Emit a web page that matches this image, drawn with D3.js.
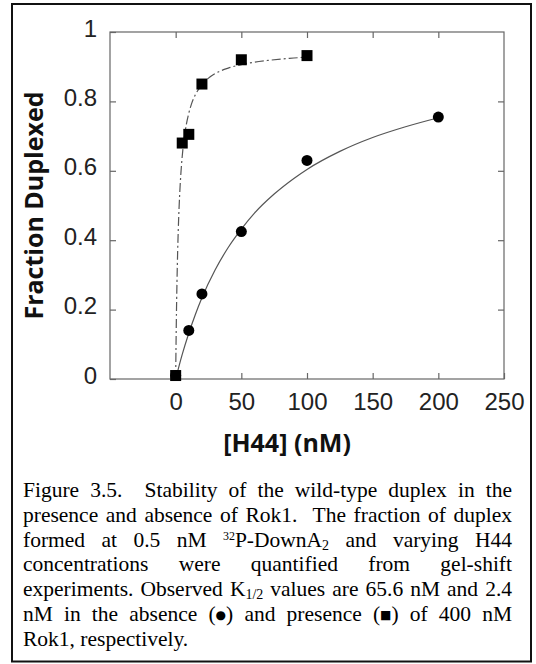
<!DOCTYPE html>
<html>
<head>
<meta charset="utf-8">
<script src="https://cdn.jsdelivr.net/npm/d3@7"></script>
<style>
body { margin: 0; background: #fff; }
svg { display: block; }
</style>
</head>
<body>
<div id="wrapper"></div>
<script>
// measured points (fraction duplexed vs [H44] nM)
const squareConc = [0, 5, 10, 20, 50, 100]          // + 400 nM Rok1
const squareFrac = [0.01, 0.68, 0.705, 0.85, 0.92, 0.932]
const circleConc = [0, 10, 20, 50, 100, 200]         // no Rok1
const circleFrac = [0.01, 0.14, 0.245, 0.425, 0.63, 0.755]

// fit curves
const fitRokConc = [0, 0.25, 0.5, 1, 1.5, 2, 3, 4, 5, 6, 8, 10, 12, 15, 20, 25, 30, 40, 50, 60, 70, 80, 90, 100]
const fitRokFrac = [0, 0.09, 0.164, 0.279, 0.365, 0.432, 0.528, 0.594, 0.642, 0.679, 0.731, 0.766, 0.792, 0.819, 0.848, 0.867, 0.88, 0.896, 0.906, 0.913, 0.918, 0.922, 0.925, 0.928]
const fitNoRokConc = [0, 5, 10, 15, 20, 30, 40, 50, 60, 75, 90, 100, 125, 150, 175, 200]
const fitNoRokFrac = [0, 0.071, 0.132, 0.186, 0.234, 0.314, 0.379, 0.432, 0.478, 0.533, 0.578, 0.604, 0.656, 0.696, 0.727, 0.753]

const xTicks = [0, 50, 100, 150, 200, 250]
const yTicks = [0, 0.2, 0.4, 0.6, 0.8, 1]

const captionLines = [
    "Figure 3.5.  Stability of the wild-type duplex in the",
    "presence and absence of Rok1.  The fraction of duplex",
    "formed at 0.5 nM ^{32}P-DownA_{2} and varying H44",
    "concentrations were quantified from gel-shift",
    "experiments. Observed K_{1/2} values are 65.6 nM and 2.4",
    "nM in the absence (~{\u25CF}) and presence (~{\u25A0}) of 400 nM",
    "Rok1, respectively.",
]

let dimensions = {
    width: 536,
    height: 664,
    margin: {
        top: 32,
        right: 32,
        bottom: 285,
        left: 110,
    }
}
dimensions.boundedWidth = dimensions.width - dimensions.margin.left - dimensions.margin.right
dimensions.boundedHeight = dimensions.height - dimensions.margin.top - dimensions.margin.bottom

const svg = d3.select("#wrapper")
    .append("svg")
    .attr("width", dimensions.width)
    .attr("height", dimensions.height)

// outer frame
svg.append("rect")
    .attr("x", 12)
    .attr("y", 4)
    .attr("width", 519)
    .attr("height", 657.5)
    .attr("fill", "none")
    .attr("stroke", "#111")
    .attr("stroke-width", 2)

const xScale = d3.scaleLinear()
    .domain([-50, 250])
    .range([dimensions.margin.left, dimensions.margin.left + dimensions.boundedWidth])

const yScale = d3.scaleLinear()
    .domain([0, 1])
    .range([dimensions.margin.top + dimensions.boundedHeight, dimensions.margin.top])

const tickLen = -6
const axisColor = "#666"

const styleAxis = g => {
    g.select(".domain").remove()
    g.selectAll(".tick line").attr("stroke", axisColor).attr("stroke-width", 1.2)
    g.selectAll(".tick text")
        .attr("fill", "#222")
        .style("font-family", "'Liberation Sans', Arial, sans-serif")
        .style("font-size", "24px")
}

svg.append("g")
    .attr("transform", `translate(0,${yScale(0)})`)
    .call(d3.axisBottom(xScale).tickValues(xTicks).tickSizeInner(tickLen).tickSizeOuter(0).tickPadding(14))
    .call(styleAxis)

svg.append("g")
    .attr("transform", `translate(0,${yScale(1)})`)
    .call(d3.axisTop(xScale).tickValues(xTicks.slice(0, -1)).tickSizeInner(tickLen).tickSizeOuter(0).tickFormat(""))
    .call(styleAxis)

svg.append("g")
    .attr("transform", `translate(${xScale(-50)},0)`)
    .call(d3.axisLeft(yScale).tickValues(yTicks).tickSizeInner(tickLen).tickSizeOuter(0).tickPadding(13).tickFormat(d => String(d)))
    .call(styleAxis)
    .call(g => g.selectAll(".tick text").attr("dy", "0.17em"))

svg.append("g")
    .attr("transform", `translate(${xScale(250)},0)`)
    .call(d3.axisRight(yScale).tickValues(yTicks.slice(1, -1)).tickSizeInner(tickLen).tickSizeOuter(0).tickFormat(""))
    .call(styleAxis)

// plot box
svg.append("rect")
    .attr("x", xScale(-50))
    .attr("y", yScale(1))
    .attr("width", xScale(250) - xScale(-50))
    .attr("height", yScale(0) - yScale(1))
    .attr("fill", "none")
    .attr("stroke", axisColor)
    .attr("stroke-width", 1.2)

const lineGenerator = d3.line()
    .x(d => xScale(d[0]))
    .y(d => yScale(d[1]))
    .curve(d3.curveMonotoneX)

svg.append("path")
    .datum(d3.zip(fitNoRokConc, fitNoRokFrac))
    .attr("d", lineGenerator)
    .attr("fill", "none")
    .attr("stroke", "#555")
    .attr("stroke-width", 1.2)

svg.append("path")
    .datum(d3.zip(fitRokConc, fitRokFrac))
    .attr("d", lineGenerator)
    .attr("fill", "none")
    .attr("stroke", "#555")
    .attr("stroke-width", 1.2)
    .attr("stroke-dasharray", "9,3,2,3")

svg.append("g")
    .selectAll("circle")
    .data(d3.zip(circleConc, circleFrac))
    .join("circle")
    .attr("cx", d => xScale(d[0]))
    .attr("cy", d => yScale(d[1]))
    .attr("r", 5.5)
    .attr("fill", "#000")

const sq = 11
svg.append("g")
    .selectAll("rect")
    .data(d3.zip(squareConc, squareFrac))
    .join("rect")
    .attr("x", d => xScale(d[0]) - sq / 2)
    .attr("y", d => yScale(d[1]) - sq / 2)
    .attr("width", sq)
    .attr("height", sq)
    .attr("fill", "#000")

// axis titles
svg.append("text")
    .attr("x", 287)
    .attr("y", 452)
    .attr("text-anchor", "middle")
    .style("font-family", "'Open Sans', sans-serif")
    .style("font-weight", 700)
    .style("font-size", "25px")
    .attr("fill", "#111")
    .text("[H44] (nM)")

svg.append("text")
    .attr("transform", `translate(43,${(yScale(0) + yScale(1)) / 2}) rotate(-90)`)
    .attr("text-anchor", "middle")
    .style("font-family", "'Open Sans', sans-serif")
    .style("font-weight", 700)
    .style("font-size", "25px")
    .attr("fill", "#111")
    .text("Fraction Duplexed")

// caption, justified by hand
const capLeft = 23
const capRight = 512
const capTop = 497
const capStep = 24.8
const capFont = 21.5

const parseWord = w => {
    const parts = []
    const re = /([\^_~])\{([^}]*)\}|([^\^_~]+)/g
    let m
    while ((m = re.exec(w)) !== null) {
        if (m[3]) parts.push({ t: m[3], kind: "" })
        else parts.push({ t: m[2], kind: m[1] === "^" ? "sup" : m[1] === "_" ? "sub" : "sym" })
    }
    return parts
}

const caption = svg.append("g")
    .style("font-family", "'Liberation Serif', 'Times New Roman', serif")
    .style("font-size", capFont + "px")
    .attr("fill", "#000")

captionLines.forEach((line, i) => {
    const baseY = capTop + i * capStep
    const tokens = line.split(/( +)/)
    const words = tokens.filter((_, j) => j % 2 === 0)
    const gapWeights = tokens.filter((_, j) => j % 2 === 1).map(s => s.length)

    const nodes = words.map(w => {
        const t = caption.append("text").attr("y", baseY)
        parseWord(w).forEach(p => {
            const span = t.append("tspan").text(p.t)
            if (p.kind === "sup") span.style("font-size", "12px").attr("baseline-shift", "7")
            if (p.kind === "sub") span.style("font-size", "14px").attr("baseline-shift", "-3")
            if (p.kind === "sym") span.style("font-family", "'DejaVu Sans', sans-serif").style("font-size", "12px").attr("baseline-shift", "2")
        })
        return t
    })
    const widths = nodes.map(n => n.node().getComputedTextLength())
    const total = d3.sum(widths)
    const weightSum = d3.sum(gapWeights)
    const isLast = i === captionLines.length - 1
    const unit = isLast ? capFont * 0.25 : (capRight - capLeft - total) / weightSum

    let xPos = capLeft
    nodes.forEach((n, j) => {
        n.attr("x", xPos)
        xPos += widths[j] + (j < gapWeights.length ? gapWeights[j] * unit : 0)
    })
})
</script>
</body>
</html>
